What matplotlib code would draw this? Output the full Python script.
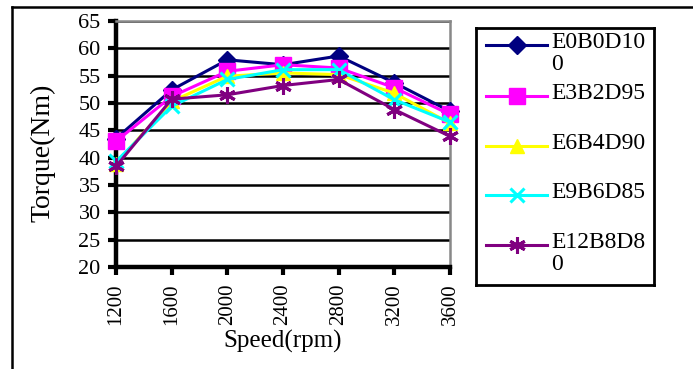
import matplotlib
matplotlib.use("Agg")
import matplotlib.pyplot as plt
from matplotlib.lines import Line2D

speeds = [1200, 1600, 2000, 2400, 2800, 3200, 3600]
e0b0d100 = [43.5, 52.4, 57.9, 57.0, 58.6, 53.7, 48.5]
e3b2d95 = [43.0, 51.2, 55.8, 57.0, 56.4, 52.8, 47.9]
e6b4d90 = [38.9, 50.3, 54.9, 55.5, 55.2, 51.8, 46.3]
e9b6d85 = [39.3, 49.4, 54.3, 56.1, 56.1, 50.6, 46.5]
e12b8d80 = [38.4, 50.7, 51.5, 53.2, 54.3, 48.8, 43.9]
labels = ["E0B0D10\n0", "E3B2D95", "E6B4D90", "E9B6D85", "E12B8D8\n0"]
yticks = [20, 25, 30, 35, 40, 45, 50, 55, 60, 65]

plt.rcParams['font.family'] = ['Liberation Serif', 'DejaVu Serif']

W, H = 693, 369
fig = plt.figure(figsize=(W/100, H/100), dpi=100)
ax = fig.add_axes([116/W, 1-267/H, 334/W, 246/H])

series = [e0b0d100, e3b2d95, e6b4d90, e9b6d85, e12b8d80]
colors = ['#000080', '#FF00FF', '#FFFF00', '#00FFFF', '#800080']
markers = ['D', 's', '^', 'x', (6, 2, 0)]
msizes = [9, 11, 10, 10, 12]
mews = [1, 1, 1, 2.2, 2.2]
x = list(range(len(speeds)))
for s, c, m, ms, mw in zip(series, colors, markers, msizes, mews):
    ax.plot(x, s, color=c, marker=m, markersize=ms, linewidth=2.2,
            markeredgewidth=mw, markeredgecolor=c, clip_on=False, zorder=3)

ax.set_xlim(0, len(speeds)-1)
ax.set_ylim(20, 65)
ax.set_yticks(yticks)
ax.set_xticks(x)
ax.set_xticklabels([str(v) for v in speeds], rotation=90)
ax.tick_params(axis='both', width=3, length=6, direction='out', color='black')
ax.tick_params(axis='y', pad=5, labelsize=16)
ax.tick_params(axis='x', pad=6, labelsize=15)
ax.grid(axis='y', color='black', linewidth=1.8, zorder=0)
ax.set_axisbelow(True)
for sp in ['left', 'bottom']:
    ax.spines[sp].set_linewidth(3.2)
    ax.spines[sp].set_color('black')
for sp in ['top', 'right']:
    ax.spines[sp].set_linewidth(1.8)
    ax.spines[sp].set_color('#888888')

ax.set_ylabel('Torque(Nm)', fontsize=20)
ax.yaxis.set_label_coords((56-116)/334, (267-153)/246)
ax.set_xlabel('Speed(rpm)', fontsize=18)
ax.xaxis.set_label_coords(0.5, -(330-267)/246)

# legend drawn in its own pixel-coordinate axes
L, T, R, B = 476, 28, 654, 285
lax = fig.add_axes([L/W, 1-B/H, (R-L)/W, (B-T)/H])
lax.set_xlim(L, R)
lax.set_ylim(B, T)
lax.set_xticks([])
lax.set_yticks([])
for sp in lax.spines.values():
    sp.set_linewidth(2)
    sp.set_color('black')
rows = [45, 96, 146, 195, 245]
for ry, c, m, ms, mw, lab in zip(rows, colors, markers, msizes, mews, labels):
    lax.plot([486, 547], [ry, ry], color=c, linewidth=2.2)
    lax.plot([516.5], [ry], color=c, marker=m, markersize=ms, markeredgewidth=mw,
             markeredgecolor=c, linestyle='none')
    lax.text(551, ry - 13, lab, fontsize=17, va='top', ha='left', linespacing=1.05)

fig.add_artist(Line2D([12/W, 1], [1-7/H, 1-7/H], color='black', linewidth=1.8))
fig.add_artist(Line2D([12/W, 12/W], [0, 1-7/H], color='black', linewidth=1.8))

fig.savefig('out.png', dpi=100)
